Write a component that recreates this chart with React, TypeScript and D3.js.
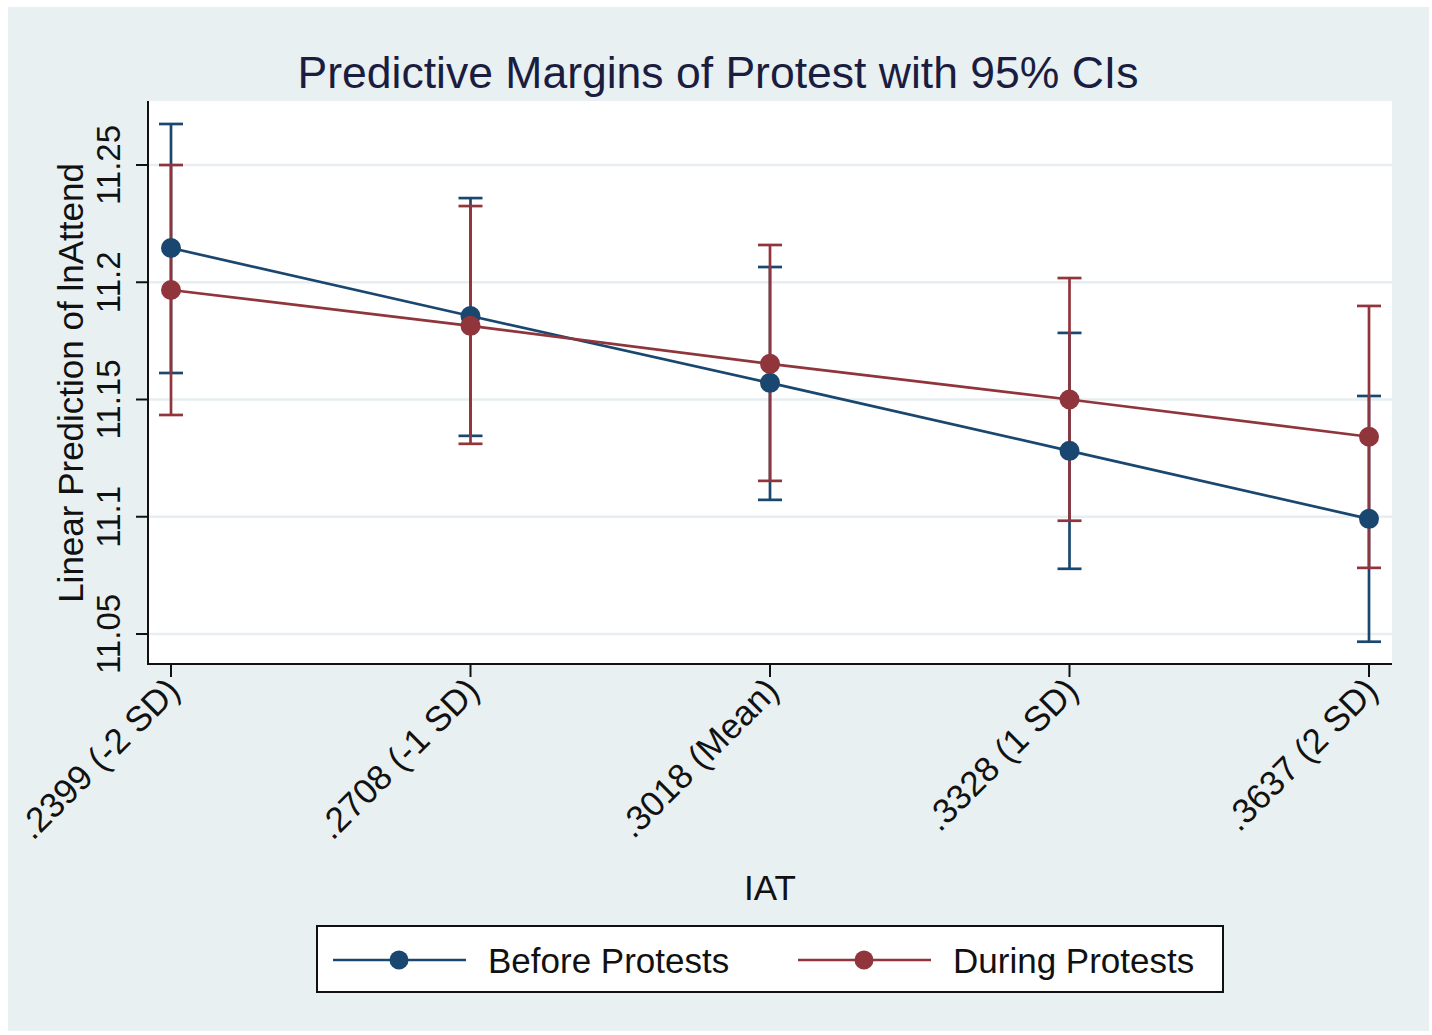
import React from 'react';
import { scaleLinear, scalePoint, line } from 'd3';

const W = 1432;
const H = 1035;
const plot = { left: 148, right: 1392, top: 101, bottom: 664 };

const categories = ['.2399 (-2 SD)', '.2708 (-1 SD)', '.3018 (Mean)', '.3328 (1 SD)', '.3637 (2 SD)'];
const yTicks = [11.05, 11.1, 11.15, 11.2, 11.25];

const beforeMargin = [11.2146, 11.1856, 11.1571, 11.1281, 11.0991];
const beforeLow = [11.1613, 11.1345, 11.1072, 11.0778, 11.0467];
const beforeHigh = [11.2675, 11.2359, 11.2065, 11.1784, 11.1515];

const duringMargin = [11.1967, 11.1814, 11.1652, 11.15, 11.1341];
const duringLow = [11.1434, 11.1311, 11.1153, 11.0983, 11.0782];
const duringHigh = [11.25, 11.2325, 11.2159, 11.2018, 11.1899];

const navy = '#1a476f';
const maroon = '#90353b';
const font = '"Liberation Sans", Arial, sans-serif';

const series = [
  { name: 'Before Protests', color: navy, m: beforeMargin, lo: beforeLow, hi: beforeHigh },
  { name: 'During Protests', color: maroon, m: duringMargin, lo: duringLow, hi: duringHigh },
];

export default function App() {
  const x = scalePoint<string>().domain(categories).range([171, 1369]);
  const y = scaleLinear().domain([11.0372, 11.2773]).range([plot.bottom, plot.top]);
  const path = line<number>()
    .x((_, i) => x(categories[i]) as number)
    .y((d) => y(d));
  const cap = 12;

  return (
    <svg
      width={W}
      height={H}
      style={{ position: 'absolute', left: 0, top: 0, background: '#ffffff', fontFamily: font }}
    >
      <rect x={8} y={7} width={1421} height={1024} fill="#e9f0f2" />
      <rect x={plot.left} y={plot.top} width={plot.right - plot.left} height={plot.bottom - plot.top} fill="#ffffff" />

      {/* gridlines */}
      {yTicks.map((t) => (
        <line key={'g' + t} x1={plot.left} x2={plot.right} y1={y(t)} y2={y(t)} stroke="#e6eef1" strokeWidth={2.5} />
      ))}

      {/* title */}
      <text x={718} y={88} textAnchor="middle" fontSize={44.5} fill="#1a1d3f">
        Predictive Margins of Protest with 95% CIs
      </text>

      {/* y axis */}
      <line x1={plot.left} x2={plot.left} y1={plot.top} y2={plot.bottom + 1} stroke="#111" strokeWidth={2} />
      {yTicks.map((t) => (
        <g key={'y' + t}>
          <line x1={136} x2={plot.left} y1={y(t)} y2={y(t)} stroke="#111" strokeWidth={2} />
          <text transform={`translate(120,${y(t)}) rotate(-90)`} textAnchor="middle" fontSize={33} fill="#111">
            {String(t)}
          </text>
        </g>
      ))}
      <text transform={`translate(83,383) rotate(-90)`} textAnchor="middle" fontSize={35} fill="#111">
        Linear Prediction of lnAttend
      </text>

      {/* x axis */}
      <line x1={plot.left - 1} x2={plot.right} y1={plot.bottom} y2={plot.bottom} stroke="#111" strokeWidth={2} />
      {categories.map((c) => (
        <g key={c}>
          <line x1={x(c)} x2={x(c)} y1={plot.bottom} y2={plot.bottom + 13} stroke="#111" strokeWidth={2} />
          <text
            transform={`translate(${(x(c) as number) + 2},${plot.bottom + 20}) rotate(-45)`}
            textAnchor="end"
            dy="0.35em"
            fontSize={35}
            fill="#111"
          >
            {c}
          </text>
        </g>
      ))}
      <text x={770} y={900} textAnchor="middle" fontSize={35} fill="#111">
        IAT
      </text>

      {/* error bars */}
      {series.map((s) => (
        <g key={'e' + s.name}>
          {categories.map((c, i) => {
            const cx = x(c) as number;
            return (
              <g key={c} stroke={s.color} strokeWidth={2.7}>
                <line x1={cx} x2={cx} y1={y(s.lo[i])} y2={y(s.hi[i])} />
                <line x1={cx - cap} x2={cx + cap} y1={y(s.lo[i])} y2={y(s.lo[i])} />
                <line x1={cx - cap} x2={cx + cap} y1={y(s.hi[i])} y2={y(s.hi[i])} />
              </g>
            );
          })}
        </g>
      ))}

      {/* lines and markers */}
      {series.map((s) => (
        <g key={'l' + s.name}>
          <path d={path(s.m) || ''} fill="none" stroke={s.color} strokeWidth={2.7} />
          {s.m.map((v, i) => (
            <circle key={i} cx={x(categories[i])} cy={y(v)} r={10} fill={s.color} />
          ))}
        </g>
      ))}

      {/* legend */}
      <rect x={317} y={926} width={906} height={66} fill="#ffffff" stroke="#111" strokeWidth={2} />
      {series.map((s, i) => {
        const x0 = 333 + i * 465;
        return (
          <g key={'lg' + s.name}>
            <line x1={x0} x2={x0 + 133} y1={960} y2={960} stroke={s.color} strokeWidth={2.7} />
            <circle cx={x0 + 66} cy={960} r={9.5} fill={s.color} />
            <text x={x0 + 155} y={973} fontSize={35} fill="#111">
              {s.name}
            </text>
          </g>
        );
      })}
    </svg>
  );
}
